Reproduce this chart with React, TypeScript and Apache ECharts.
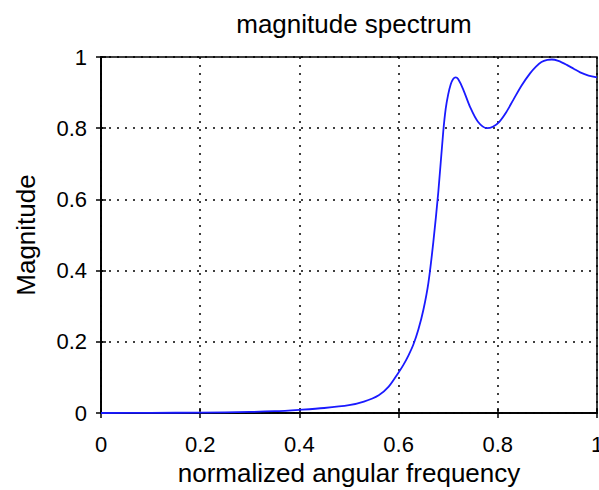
import React, { useEffect, useRef } from "react";
import * as echarts from "echarts";

const freq = [0, 0.1, 0.2, 0.3, 0.35, 0.4, 0.45, 0.5, 0.53, 0.56, 0.58, 0.6, 0.61, 0.62, 0.63, 0.64, 0.65, 0.66, 0.67, 0.68, 0.69, 0.695, 0.7, 0.705, 0.71, 0.715, 0.72, 0.73, 0.744, 0.76, 0.778, 0.79, 0.803, 0.817, 0.831, 0.848, 0.865, 0.877, 0.888, 0.9, 0.909, 0.922, 0.939, 0.953, 0.966, 0.983, 1.0];
const magnitude = [0, 0.0005, 0.001, 0.003, 0.005, 0.009, 0.014, 0.022, 0.032, 0.05, 0.074, 0.114, 0.136, 0.162, 0.193, 0.235, 0.29, 0.365, 0.48, 0.62, 0.79, 0.855, 0.895, 0.923, 0.938, 0.943, 0.938, 0.91, 0.86, 0.818, 0.8, 0.804, 0.818, 0.845, 0.879, 0.92, 0.954, 0.973, 0.986, 0.992, 0.993, 0.989, 0.978, 0.967, 0.957, 0.948, 0.943];
const xTicks = [0, 0.2, 0.4, 0.6, 0.8, 1];
const yTicks = [0, 0.2, 0.4, 0.6, 0.8, 1];

const titleText = "magnitude spectrum";
const xName = "normalized angular frequency";
const yName = "Magnitude";

export default function App() {
  const ref = useRef<HTMLDivElement>(null);
  useEffect(() => {
    if (!ref.current) return;
    const chart = echarts.init(ref.current, null, { renderer: "svg" });
    const font = "'Liberation Sans', Arial, Helvetica, sans-serif";
    const dotted = { color: "#000", width: 1.5, type: [2, 6] as number[] };
    const frameLine = { show: true, lineStyle: { color: "#000", width: 1.5 } };
    const frameTick = { show: true, inside: true, length: 5, lineStyle: { color: "#000", width: 1.5 } };
    chart.setOption({
      animation: false,
      backgroundColor: "#fff",
      textStyle: { fontFamily: font, color: "#000" },
      title: {
        text: titleText,
        left: 349,
        textAlign: "center",
        top: 6,
        textStyle: { fontFamily: font, fontSize: 26, fontWeight: "normal", color: "#000" },
      },
      grid: {
        left: 101,
        right: 2,
        top: 57,
        bottom: 77,
        show: true,
        borderColor: "#000",
        borderWidth: 1.5,
        backgroundColor: "transparent",
        outerBoundsMode: "none",
        containLabel: false,
      },
      xAxis: [
        {
          type: "value",
          min: xTicks[0],
          max: xTicks[xTicks.length - 1],
          interval: 0.2,
          name: xName,
          nameLocation: "middle",
          nameGap: 47,
          nameTextStyle: { fontFamily: font, fontSize: 26, color: "#000" },
          axisLine: frameLine,
          axisTick: frameTick,
          axisLabel: { fontFamily: font, fontSize: 22, color: "#000", margin: 20, showMaxLabel: true, showMinLabel: true },
          splitLine: { show: true, lineStyle: dotted },
        },
        {
          type: "value",
          position: "top",
          min: 0,
          max: 1,
          interval: 0.2,
          axisLine: frameLine,
          axisTick: frameTick,
          axisLabel: { show: false },
          splitLine: { show: false },
        },
      ],
      yAxis: [
        {
          type: "value",
          min: yTicks[0],
          max: yTicks[yTicks.length - 1],
          interval: 0.2,
          name: yName,
          nameLocation: "middle",
          nameGap: 62,
          nameRotate: 90,
          nameTextStyle: { fontFamily: font, fontSize: 26, color: "#000" },
          axisLine: frameLine,
          axisTick: frameTick,
          axisLabel: { fontFamily: font, fontSize: 22, color: "#000", margin: 14, padding: [10, 0, 0, 0] },
          splitLine: { show: true, lineStyle: dotted },
        },
        {
          type: "value",
          position: "right",
          min: 0,
          max: 1,
          interval: 0.2,
          axisLine: frameLine,
          axisTick: frameTick,
          axisLabel: { show: false },
          splitLine: { show: false },
        },
      ],
      series: [
        {
          type: "line",
          data: freq.map((f, i) => [f, magnitude[i]]),
          smooth: 0.3,
          showSymbol: false,
          symbol: "none",
          lineStyle: { color: "#1a1aff", width: 1.8 },
          xAxisIndex: 0,
          yAxisIndex: 0,
        },
      ],
    });
    return () => chart.dispose();
  }, []);
  return <div ref={ref} style={{ width: 599, height: 490, position: "absolute", left: 0, top: 0 }} />;
}
